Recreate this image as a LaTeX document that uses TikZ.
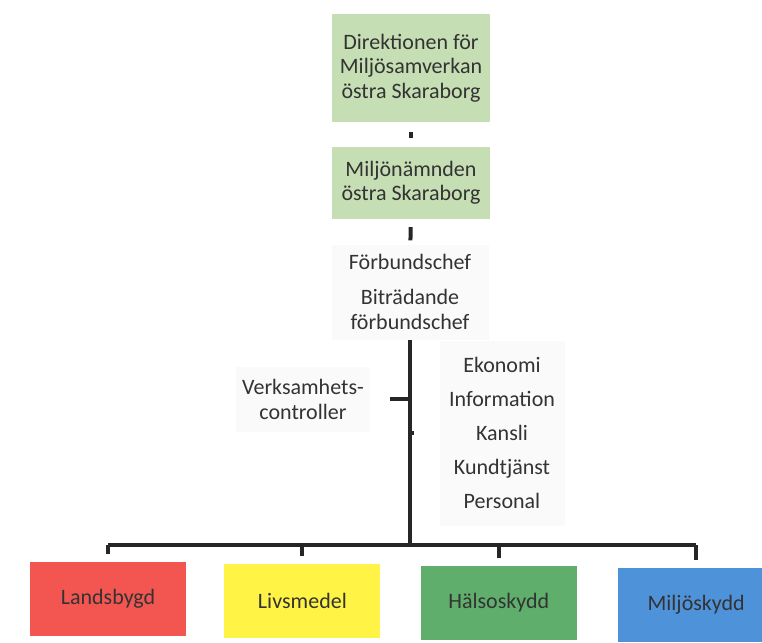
\documentclass[tikz,border=0pt]{standalone}
\usepackage{fontspec}
\setmainfont{Carlito}
\usetikzlibrary{positioning, calc}
\definecolor{boardgreen}{RGB}{198, 222, 180}
\definecolor{unitred}{RGB}{243, 86, 80}
\definecolor{unityellow}{RGB}{255, 243, 70}
\definecolor{unitgreen}{RGB}{96, 174, 108}
\definecolor{unitblue}{RGB}{78, 146, 218}
\tikzset{
    board/.style = {rectangle, fill=boardgreen, minimum width=158pt, align=center, text=black!80, font=\fontsize{22}{24.5}\selectfont},
    staff/.style = {rectangle, fill=black!2, align=center, text=black!80, font=\fontsize{22}{25}\selectfont},
    unit/.style = {rectangle, minimum width=156pt, minimum height=74pt, text=black!80, font=\fontsize{22}{24}\selectfont},
    link/.style = {line width=4pt, black!85}
}

\begin{document}
\begin{tikzpicture}[x=1pt, y=-1pt]
  \useasboundingbox (0,0) rectangle (762,642);

  \node[board, minimum height=108pt] (dir) at (411,68) {Direktionen för\\Miljösamverkan\\östra Skaraborg};
  \node[board, minimum height=72pt] (nmd) at (411,183) {Miljönämnden\\östra Skaraborg};
  \node[staff, minimum width=157pt, minimum height=95pt] (chef) at (410,292) {Förbundschef\\[10pt]Biträdande\\förbundschef};
  \node[staff, minimum width=134pt, minimum height=65pt] (ctrl) at (303,399) {Verksamhets-\\controller};
  \node[staff, minimum width=125pt, minimum height=185pt, font=\fontsize{22}{34}\selectfont] (supp) at (502,433) {Ekonomi\\Information\\Kansli\\Kundtjänst\\Personal};

  \node[unit, fill=unitred] (land) at (108,599) {Landsbygd};
  \node[unit, fill=unityellow, right=38pt of land, yshift=-2pt] (livs) {Livsmedel};
  \node[unit, fill=unitgreen, right=40pt of livs, yshift=-2pt] (halsa) {Hälsoskydd};
  \node[unit, fill=unitblue, right=41pt of halsa, yshift=-2pt] (miljo) {Miljöskydd};

  \coordinate (hub) at (410,545);

  \draw[link, shorten <=10pt, shorten >=9pt] (dir) -- (nmd);
  \draw[link, shorten <=8pt, shorten >=4pt] (nmd) -- (chef);
  \draw[link] (chef.south) -- (hub);
  \draw[link, shorten <=20pt] (ctrl.east) -- (ctrl.east -| hub);
  \draw[link, shorten >=25pt] (hub |- supp.west) -- (supp.west);
  \draw[link] (land.north |- hub) -- (miljo.north |- hub);
  \foreach \u in {land, livs, halsa, miljo}
    \draw[link, shorten >=8pt] (\u.north |- hub) -- (\u.north);
\end{tikzpicture}
\end{document}
